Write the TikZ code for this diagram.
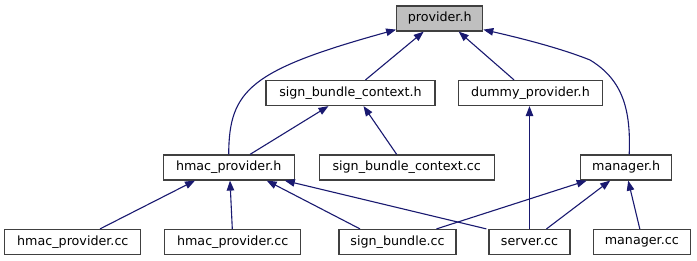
\documentclass[tikz,border=0pt]{standalone}
\usepackage{fontspec}
\setmainfont{DejaVu Sans}
\usetikzlibrary{arrows.meta}
\definecolor{edgeblue}{HTML}{191970}
\definecolor{boxline}{HTML}{404040}
\definecolor{rootfill}{HTML}{BFBFBF}
\tikzset{
  file/.style={draw=boxline, line width=1.2pt, rectangle, inner sep=0pt,
    minimum height=25pt, font=\fontsize{12.7}{15}\selectfont, text=black},
  root/.style={file, fill=rootfill},
  dep/.style={draw=edgeblue, line width=1.1pt,
    arrows={Triangle[length=10pt,width=7.5pt,fill=edgeblue]-}},
}
\begin{document}
\begin{tikzpicture}[x=1pt,y=-1pt]
\useasboundingbox (0,0) rectangle (697,261);

% header and source files
\node[root, minimum width=86pt]  (provider) at (439.7,18.5) {provider.h};
\node[file, minimum width=169pt] (sbch)     at (350.5,93)   {sign\_bundle\_context.h};
\node[file, minimum width=144pt] (dummy)    at (530.5,93)   {dummy\_provider.h};
\node[file, minimum width=131pt] (hmach)    at (228.7,167.5){hmac\_provider.h};
\node[file, minimum width=175pt] (sbccc)    at (406.7,167.5){sign\_bundle\_context.cc};
\node[file, minimum width=91pt]  (manh)     at (626.2,167.5){manager.h};
\node[file, minimum width=136pt] (hcca)     at (72.8,242)   {hmac\_provider.cc};
\node[file, minimum width=136pt] (hccb)     at (232.7,242)  {hmac\_provider.cc};
\node[file, minimum width=117pt] (sbcc)     at (397.5,242)  {sign\_bundle.cc};
\node[file, minimum width=81pt]  (server)   at (529.5,242)  {server.cc};
\node[file, minimum width=97pt]  (mancc)    at (641.8,242)  {manager.cc};

% include edges, arrow at the included file
\draw[dep] ([xshift=-16]provider.south) -- ([xshift=15]sbch.north);
\draw[dep] ([xshift=19]provider.south) -- ([xshift=-16.5]dummy.north);
\draw[dep] ([yshift=2]provider.south west) .. controls (250,70) and (229,90) .. (hmach.north);
\draw[dep] ([yshift=2]provider.south east) .. controls (520,38) and (560,48) .. (590,60)
           .. controls (623,80) and (631,110) .. ([xshift=3]manh.north);
\draw[dep] ([xshift=-22]sbch.south) -- ([xshift=21.3]hmach.north);
\draw[dep] ([xshift=13]sbch.south) -- ([xshift=-10]sbccc.north);
\draw[dep] ([xshift=-1]dummy.south) -- (server.north);
\draw[dep] ([xshift=-33.7]hmach.south) -- ([xshift=27.2]hcca.north);
\draw[dep] ([xshift=1.3]hmach.south) -- ([xshift=-0.4]hccb.north);
\draw[dep] ([xshift=38]hmach.south) -- ([xshift=-37.5]sbcc.north);
\draw[dep] ([xshift=-10]hmach.south east) -- ([xshift=-2]server.north west);
\draw[dep] ([xshift=-39.5]manh.south) -- ([xshift=39]sbcc.north);
\draw[dep] ([xshift=-16]manh.south) -- ([xshift=17]server.north);
\draw[dep] ([xshift=2]manh.south) -- ([xshift=-2]mancc.north);
\end{tikzpicture}
\end{document}
